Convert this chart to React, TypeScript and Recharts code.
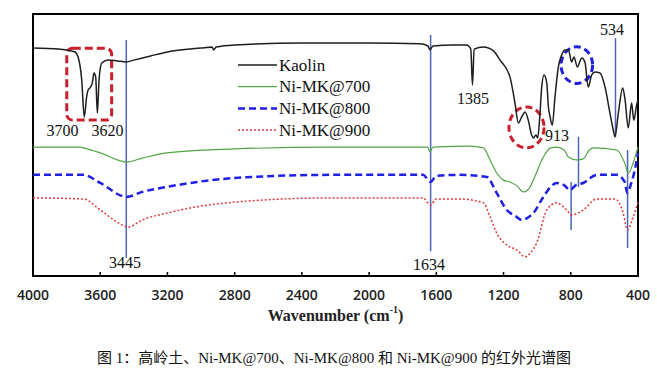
import {
  LineChart,
  Line,
  XAxis,
  YAxis,
  Legend,
  ReferenceArea,
  ReferenceLine,
  ReferenceDot,
} from "recharts";

// wavenumber (cm-1) / relative transmittance (0-100, arbitrary)
const kaolinWn = [
  4000, 3850, 3780, 3750, 3730, 3710, 3695, 3681, 3672, 3661, 3647, 3637, 3627,
  3617, 3607, 3591, 3552, 3500, 3445, 3400, 3300, 3200, 3000, 2935, 2925, 2910,
  2800, 2400, 2000, 1700, 1650, 1638, 1620, 1500, 1420, 1395, 1385, 1375, 1320,
  1260, 1221, 1162, 1132, 1112, 1092, 1072, 1053, 1033, 1023, 1007, 997, 983,
  973, 959, 943, 933, 923, 910, 894, 874, 854, 834, 814, 795, 781, 761, 735,
  716, 696, 676, 656, 626, 596, 567, 547, 537, 517, 491, 477, 458, 438, 425,
  408, 400,
];
const kaolinT = [
  87.0, 86.6, 86.0, 85.5, 83.2, 74.8, 60.7, 68.3, 71.0, 71.8, 73.7, 77.5, 76.0,
  62.2, 74.8, 81.3, 82.4, 82.1, 81.7, 82.4, 84.0, 85.5, 87.0, 87.4, 86.3, 87.4,
  88.2, 88.9, 88.9, 88.6, 87.8, 86.3, 87.8, 88.2, 88.2, 86.6, 72.9, 86.6, 87.4,
  85.9, 82.4, 76.0, 66.0, 58.4, 60.7, 62.6, 59.5, 53.8, 52.7, 53.8, 52.7, 62.2,
  72.1, 76.7, 73.7, 64.5, 60.7, 57.6, 68.3, 79.8, 84.4, 86.3, 86.3, 81.7, 83.6,
  79.8, 83.2, 81.7, 72.1, 76.7, 77.9, 77.5, 72.1, 62.2, 55.7, 53.1, 62.2, 71.8,
  67.2, 56.5, 66.0, 59.5, 65.3, 67.2,
];

const mk700Wn = [
  4000, 3720, 3700, 3600, 3443, 3350, 3204, 2800, 2233, 1700, 1650, 1638, 1620,
  1400, 1320, 1280, 1241, 1200, 1162, 1120, 1082, 1050, 1023, 963, 920, 884,
  840, 814, 765, 726, 690, 666, 527, 479, 458, 429, 400,
];
const mk700T = [
  49.2, 49.2, 48.9, 47.0, 43.5, 45.0, 47.0, 48.5, 49.2, 49.2, 49.2, 47.3, 49.2,
  49.6, 48.9, 44.3, 39.3, 36.6, 35.9, 34.4, 32.1, 33.2, 36.6, 45.4, 48.9, 49.2,
  48.1, 45.4, 44.3, 44.7, 48.1, 48.9, 48.1, 43.1, 39.3, 43.1, 49.2,
];

const mk800Wn = [
  4000, 3700, 3600, 3443, 3350, 3204, 2800, 2233, 1680, 1634, 1600, 1459, 1300,
  1241, 1181, 1130, 1092, 1060, 1023, 963, 920, 884, 840, 805, 770, 726, 646,
  527, 479, 464, 440, 429, 400,
];
const mk800T = [
  38.6, 38.6, 35.5, 30.2, 32.1, 34.0, 37.4, 38.6, 38.6, 35.9, 38.2, 38.6, 37.8,
  31.7, 25.2, 22.9, 21.4, 22.1, 24.0, 30.2, 34.0, 35.5, 34.7, 32.8, 34.7, 35.5,
  38.6, 38.6, 35.9, 31.7, 35.5, 37.8, 47.0,
];

const mk900Wn = [
  4000, 3700, 3600, 3500, 3433, 3350, 3204, 3000, 2800, 2233, 1680, 1634, 1600,
  1459, 1320, 1280, 1241, 1181, 1120, 1072, 1040, 1003, 943, 884, 825, 795, 726,
  646, 537, 488, 463, 429, 400,
];
const mk900T = [
  29.8, 29.4, 25.2, 20.6, 18.7, 21.4, 24.0, 26.7, 28.2, 29.8, 29.8, 27.1, 29.4,
  29.4, 27.9, 22.5, 16.4, 11.8, 9.9, 7.3, 8.8, 12.6, 25.2, 27.9, 25.2, 23.3,
  25.2, 29.4, 29.4, 24.0, 17.6, 22.5, 28.2,
];

const xTicks = [4000, 3600, 3200, 2800, 2400, 2000, 1600, 1200, 800, 400];

// peak markers: [wavenumber, top, bottom]
const markerLines = [
  [3445, 90.1, 6.9],
  [1634, 92.0, 9.5],
  [534, 90.8, 53.1],
  [754, 53.1, 34.0],
  [798, 35.9, 17.6],
  [462, 48.1, 10.7],
];

// peak labels: [text, wavenumber, y]
const peakLabels = [
  ["3700", 3824, 55.7],
  ["3620", 3557, 55.7],
  ["1385", 1382, 67.8],
  ["913", 882, 53.8],
  ["534", 554, 93.9],
  ["3445", 3453, 5.0],
  ["1634", 1644, 4.2],
];

const zip = (wn: number[], t: number[]) => wn.map((w, i) => ({ wn: w, t: t[i] }));

const series = [
  { name: "Kaolin", data: zip(kaolinWn, kaolinT), color: "#1e1e1e", width: 1.5, dash: undefined },
  { name: "Ni-MK@700", data: zip(mk700Wn, mk700T), color: "#52a447", width: 1.2, dash: undefined },
  { name: "Ni-MK@800", data: zip(mk800Wn, mk800T), color: "#1f1fe6", width: 2.5, dash: "7 4" },
  { name: "Ni-MK@900", data: zip(mk900Wn, mk900T), color: "#e03a3a", width: 1.5, dash: "2 2" },
];

const SERIF = "Liberation Serif, DejaVu Serif, Times New Roman, serif";
const MARK = "#4a66b8";

const AxisTick = (props: any) => {
  const { x, payload } = props;
  return (
    <g>
      <line x1={x} x2={x} y1={276} y2={272} stroke="#000" strokeWidth={1.5} />
      <text
        x={x}
        y={294}
        textAnchor="middle"
        dominantBaseline="central"
        style={{ fontFamily: "Open Sans, sans-serif", fontWeight: 600, fontSize: 14 }}
        fill="#222"
      >
        {payload.value}
      </text>
    </g>
  );
};

const LegendBox = (props: any) => {
  const { payload } = props;
  return (
    <svg width={150} height={90}>
      {(payload || []).map((entry: any, i: number) => {
        const s = series.find((d) => d.name === entry.value);
        const y = 10 + i * 21.7;
        return (
          <g key={entry.value}>
            <line
              x1={2}
              x2={41}
              y1={y}
              y2={y}
              stroke={s?.color}
              strokeWidth={s?.width}
              strokeDasharray={s?.dash}
            />
            <text x={43} y={y} dominantBaseline="central" style={{ fontFamily: SERIF, fontSize: 17 }} fill="#111">
              {entry.value}
            </text>
          </g>
        );
      })}
    </svg>
  );
};

const Ellipse = (color: string) => (p: any) => (
  <ellipse
    cx={p.x + p.width / 2}
    cy={p.y + p.height / 2}
    rx={p.width / 2}
    ry={p.height / 2}
    fill="none"
    stroke={color}
    strokeWidth={3}
    strokeDasharray="7 4"
  />
);

const RoundBox = (p: any) => (
  <rect
    x={p.x}
    y={p.y}
    width={p.width}
    height={p.height}
    rx={6}
    fill="none"
    stroke="#c8202a"
    strokeWidth={3}
    strokeDasharray="8 4"
  />
);

const App = () => {
  return (
    <div style={{ position: "absolute", left: 0, top: 0, width: 657, height: 382, background: "#fff" }}>
      <LineChart width={657} height={330} margin={{ top: 14, right: 19, left: 33, bottom: 0 }}>
        <XAxis
          dataKey="wn"
          type="number"
          domain={[400, 4000]}
          reversed
          ticks={xTicks}
          allowDuplicatedCategory={false}
          height={54}
          tickLine={false}
          tickSize={0}
          tickMargin={0}
          tick={<AxisTick />}
          axisLine={{ stroke: "#000", strokeWidth: 2 }}
          label={{
            content: (lp: any) => {
              const vb = lp.viewBox;
              return (
                <text
                  x={vb.x + vb.width / 2}
                  y={315}
                  textAnchor="middle"
                  dominantBaseline="central"
                  style={{ fontFamily: SERIF, fontWeight: "bold", fontSize: 16 }}
                  fill="#222"
                >
                  Wavenumber (cm
                  <tspan fontSize={10} dy={-6}>-1</tspan>
                  <tspan dy={6}>)</tspan>
                </text>
              );
            },
          }}
        />
        <YAxis type="number" domain={[0, 100]} hide />
        <ReferenceArea x1={4000} x2={400} y1={0} y2={100} fill="none" stroke="#000" strokeWidth={2} />
        {markerLines.map(([wn, top, bottom]) => (
          <ReferenceLine
            key={wn}
            segment={[
              { x: wn, y: top },
              { x: wn, y: bottom },
            ]}
            stroke={MARK}
            strokeWidth={1.5}
          />
        ))}
        {series.map((s) => (
          <Line
            key={s.name}
            name={s.name}
            data={s.data}
            dataKey="t"
            type="monotone"
            stroke={s.color}
            strokeWidth={s.width}
            strokeDasharray={s.dash}
            dot={false}
            isAnimationActive={false}
          />
        ))}
        <ReferenceArea x1={3799} x2={3532} y1={59.5} y2={86.9} shape={RoundBox} />
        <ReferenceArea x1={1168} x2={959} y1={48.9} y2={64.5} shape={Ellipse("#c8202a")} />
        <ReferenceArea x1={858} x2={670} y1={73.5} y2={87.5} shape={Ellipse("#1f1fe0")} />
        {peakLabels.map(([text, wn, y]) => (
          <ReferenceDot
            key={text as string}
            x={wn as number}
            y={y as number}
            shape={(p: any) => (
              <text
                x={p.cx}
                y={p.cy}
                textAnchor="middle"
                dominantBaseline="central"
                style={{ fontFamily: SERIF, fontSize: 16 }}
                fill="#111"
              >
                {text}
              </text>
            )}
          />
        ))}
        <Legend
          layout="vertical"
          align="center"
          verticalAlign="middle"
          content={<LegendBox />}
          wrapperStyle={{ left: 236, top: 55, width: 150 }}
        />
      </LineChart>
      <div
        style={{
          position: "absolute",
          left: 97,
          top: 348,
          whiteSpace: "nowrap",
          fontFamily: "Liberation Serif, DejaVu Serif, Noto Sans CJK SC, serif",
          fontSize: 15,
          color: "#111",
          lineHeight: "20px",
        }}
      >
        图 1：高岭土、Ni-MK@700、Ni-MK@800 和 Ni-MK@900 的红外光谱图
      </div>
    </div>
  );
};

export default App;
